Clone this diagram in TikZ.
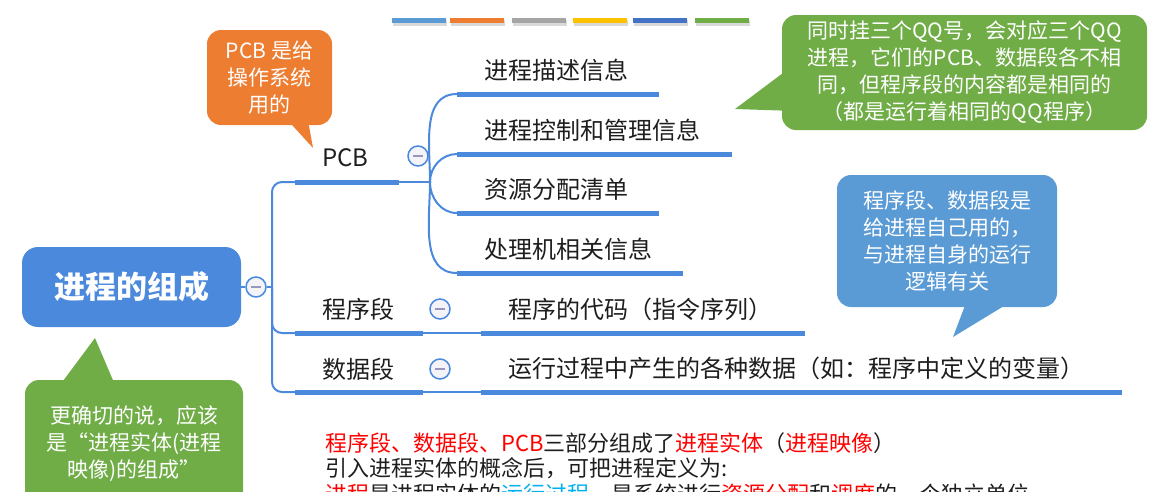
\documentclass[tikz,border=0pt]{standalone}
\usepackage{fontspec}
\setmainfont{Noto Sans CJK SC}
\usetikzlibrary{positioning}
\definecolor{MindBlue}{RGB}{74,137,220}
\definecolor{TextGray}{RGB}{30,30,30}
\definecolor{FoldFill}{RGB}{243,243,248}
\definecolor{FoldMinus}{RGB}{150,150,190}
\definecolor{PcbOrange}{RGB}{237,125,49}
\definecolor{TipGreen}{RGB}{112,173,71}
\definecolor{TipBlue}{RGB}{91,155,213}
\definecolor{NoteRed}{RGB}{255,0,0}
\definecolor{NoteCyan}{RGB}{0,176,240}
\definecolor{BarGray}{RGB}{165,165,165}
\definecolor{BarGold}{RGB}{255,192,0}
\definecolor{BarBlue}{RGB}{68,114,196}
\tikzset{
  bar/.style={line width=5pt,draw=MindBlue},
  link/.style={line width=2pt,draw=MindBlue},
  fold/.style={circle,draw=MindBlue,line width=1.5pt,fill=FoldFill,
    minimum size=20pt,inner sep=0pt,
    path picture={\draw[FoldMinus,line width=1.6pt]
      ([xshift=-5pt]path picture bounding box.center) --
      ([xshift=5pt]path picture bounding box.center);}},
  topic/.style={anchor=west,inner sep=0pt,text=TextGray,
    font=\fontsize{24}{28}\selectfont},
  bubble/.style={rounded corners=14pt,inner sep=0pt,align=center,
    text=white,font=\fontsize{21}{27}\selectfont},
  note/.style={anchor=west,inner sep=0pt,text=TextGray,
    font=\fontsize{22}{25}\selectfont}
}

\begin{document}
\begin{tikzpicture}[x=1pt,y=-1pt]
  \useasboundingbox (0,0) rectangle (1173,491);
  \clip (0,0) rectangle (1173,491);
  % colour strip on top
  \foreach \xa/\col in {392/TipBlue,450/PcbOrange,512/BarGray,573/BarGold,633/BarBlue,695/TipGreen}{
    \fill[black!15] (\xa+1,20) rectangle (\xa+55,26);
    \fill[\col] (\xa,18) rectangle (\xa+54,23);
  }

  % root
  \node[rounded corners=16pt,fill=MindBlue,minimum width=219pt,minimum height=80pt,
    text=white,font=\fontsize{31}{34}\selectfont\bfseries] (root) at (131.5,287) {进程的组成};
  \node[fold] (root-fold) at (256,287) {};
  \coordinate (trunk) at (272,287);

  % first level
  \coordinate (pcb-l) at (295,182);  \coordinate (pcb-r) at (399,182);
  \coordinate (prog-l) at (295,333); \coordinate (prog-r) at (423,333);
  \coordinate (dseg-l) at (295,392); \coordinate (dseg-r) at (423,392);
  \coordinate (pcb-hub) at (430,182);

  % second level
  \coordinate (desc-l) at (457,94);  \coordinate (desc-r) at (659,94);
  \coordinate (ctrl-l) at (457,154); \coordinate (ctrl-r) at (732,154);
  \coordinate (res-l) at (457,213);  \coordinate (res-r) at (659,213);
  \coordinate (cpu-l) at (457,273);  \coordinate (cpu-r) at (683,273);
  \coordinate (code-l) at (481,333); \coordinate (code-r) at (805,333);
  \coordinate (data-l) at (481,392); \coordinate (data-r) at (1122,392);

  % connectors
  \draw[link] (root.east) -- (root-fold.west);
  \draw[link] (root-fold.east) -- (trunk);
  \draw[link,rounded corners=10pt] (pcb-l) -| (trunk) |- (dseg-l);
  \draw[link,rounded corners=10pt] (trunk) |- (prog-l);
  \draw[link] (pcb-r) -- (pcb-hub);
  \draw[link] (pcb-hub) to[out=90,in=180] (desc-l);
  \draw[link] (pcb-hub) to[out=90,in=180] (ctrl-l);
  \draw[link] (pcb-hub) to[out=-90,in=180] (res-l);
  \draw[link] (pcb-hub) to[out=-90,in=180] (cpu-l);
  \draw[link] (prog-r) -- (code-l);
  \draw[link] (dseg-r) -- (data-l);

  % underlines
  \foreach \nm in {pcb,prog,dseg,desc,ctrl,res,cpu,code,data}
    \draw[bar] (\nm-l) -- (\nm-r);

  % labels
  \node[topic] (pcb) at (322,158) {PCB};
  \node[topic] (prog) at (322,309) {程序段};
  \node[topic] (dseg) at (322,369) {数据段};
  \node[topic] (desc) at (484,70) {进程描述信息};
  \node[topic] (ctrl) at (484,130) {进程控制和管理信息};
  \node[topic] (res) at (484,189) {资源分配清单};
  \node[topic] (cpu) at (484,249) {处理机相关信息};
  \node[topic] (code) at (508,309) {程序的代码（指令序列）};
  \node[topic] (data) at (508,368) {运行过程中产生的各种数据（如：程序中定义的变量）};

  \node[fold] (pcb-fold) at (418,156) {};
  \node[fold] (prog-fold) at (440,309) {};
  \node[fold] (dseg-fold) at (440,369) {};

  % callouts
  \coordinate (tipA) at (313,148);
  \fill[PcbOrange] (283,115) -- (tipA) -- (307,115) -- cycle;
  \node[bubble,fill=PcbOrange,minimum width=125pt,minimum height=95pt] (tipA-box)
    at (269.5,77.5) {PCB 是给\\操作系统\\用的};

  \coordinate (tipB) at (735,109);
  \fill[TipGreen] (795,64) -- (tipB) -- (795,111) -- cycle;
  \node[bubble,fill=TipGreen,minimum width=365pt,minimum height=115pt] (tipB-box)
    at (964.5,72.5) {同时挂三个QQ号，会对应三个QQ\\进程，它们的PCB、数据段各不相\\同，但程序段的内容都是相同的\\（都是运行着相同的QQ程序）};

  \coordinate (tipC) at (953,337);
  \fill[TipBlue] (969,295) -- (tipC) -- (1022,295) -- cycle;
  \node[bubble,fill=TipBlue,minimum width=220pt,minimum height=132pt] (tipC-box)
    at (947,241) {程序段、数据段是\\给进程自己用的，\\与进程自身的运行\\逻辑有关};

  \coordinate (tipD) at (95,338);
  \fill[TipGreen] (60,385) -- (tipD) -- (115,385) -- cycle;
  \node[bubble,fill=TipGreen,minimum width=218pt,minimum height=128pt] (tipD-box)
    at (134,444) {更确切的说，应该\\是“进程实体(进程\\映像)的组成”};

  % notes below
  \node[note] (note1) at (325,443) {\textcolor{NoteRed}{程序段、数据段、PCB}三部分组成了\textcolor{NoteRed}{进程实体}（\textcolor{NoteRed}{进程映像}）};
  \node[note] (note2) at (325,468) {引入进程实体的概念后，可把进程定义为:};
  \node[note] (note3) at (325,494) {\textcolor{NoteRed}{进程}是进程实体的\textcolor{NoteCyan}{运行过程}，是系统进行\textcolor{NoteRed}{资源分配}和\textcolor{NoteRed}{调度}的一个独立单位};
\end{tikzpicture}
\end{document}
